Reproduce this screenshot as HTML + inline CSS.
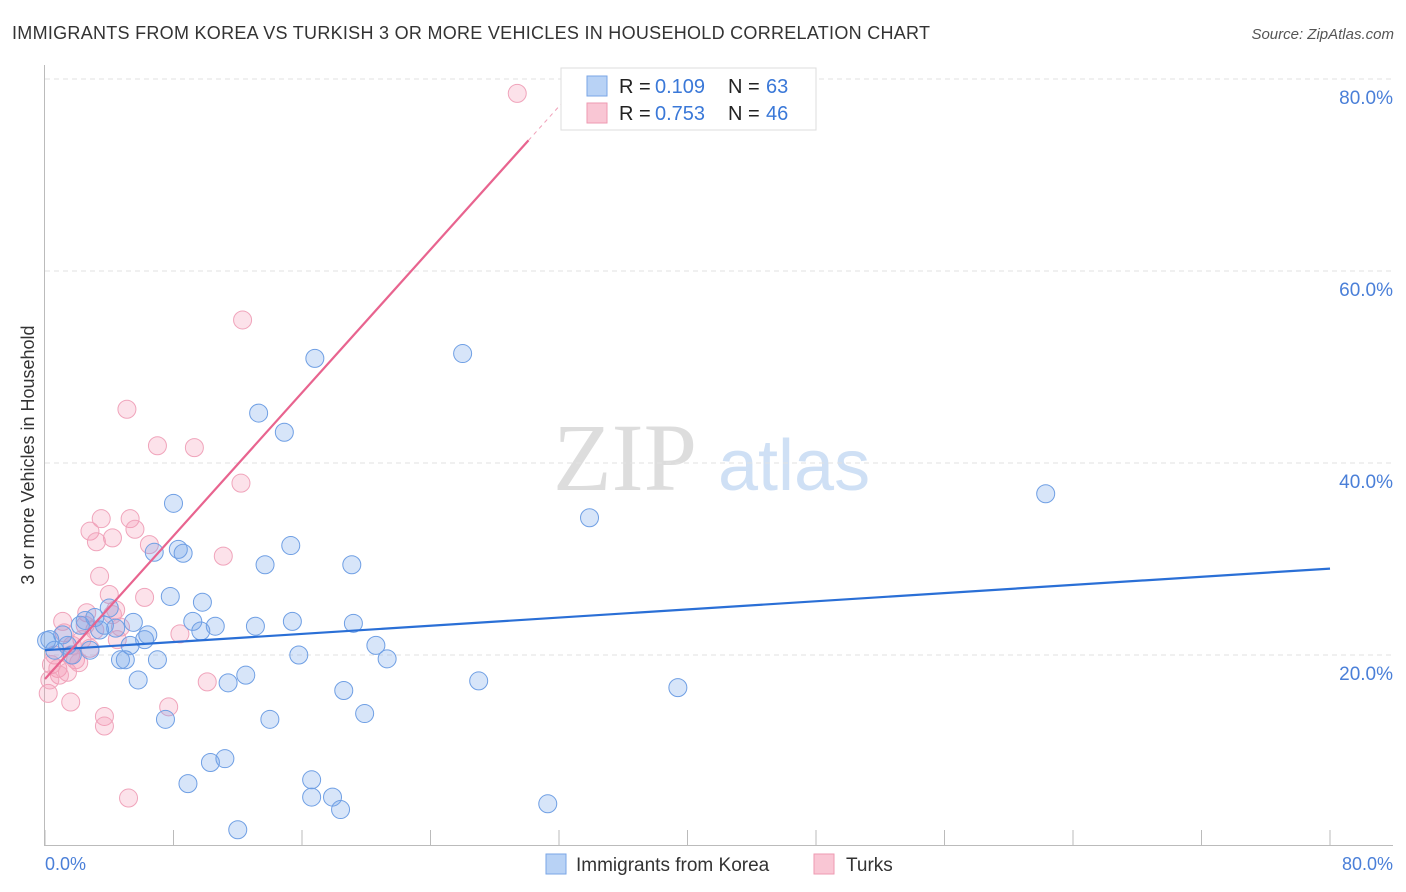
<!DOCTYPE html>
<html><head><meta charset="utf-8"><style>
body{margin:0;background:#fff;font-family:"Liberation Sans",sans-serif}
#c{position:relative;width:1406px;height:892px;overflow:hidden}
</style></head><body>
<div id="c">
<svg id="s" width="1406" height="892" xmlns="http://www.w3.org/2000/svg">
<text x="12" y="39" font-size="18" textLength="918" fill="#333">IMMIGRANTS FROM KOREA VS TURKISH 3 OR MORE VEHICLES IN HOUSEHOLD CORRELATION CHART</text>
<text x="1394" y="39" font-size="15" font-style="italic" fill="#555" text-anchor="end">Source: ZipAtlas.com</text>
<g><text x="553" y="490" font-family="Liberation Serif,serif" font-size="96" fill="#ddd">ZIP</text><text x="718" y="490" font-size="72" fill="#cfe0f5">atlas</text></g>
<g id="grid"></g><g id="axes"></g><g id="pts"></g><g id="trend"></g>
<text x="34" y="455" font-size="18" fill="#333" transform="rotate(-90 34 455)" text-anchor="middle">3 or more Vehicles in Household</text>
<text x="45" y="870" font-size="18" fill="#4a7fd8">0.0%</text>
<text x="1393" y="870" font-size="18" fill="#4a7fd8" text-anchor="end">80.0%</text>
<g>
<rect x="561" y="68" width="255" height="62" fill="#fff" stroke="#ddd"/>
<rect x="587" y="76" width="20" height="20" fill="#b8d2f5" stroke="#7aa6e6"/>
<rect x="587" y="103" width="20" height="20" fill="#f9c6d4" stroke="#ee9ab2"/>
<text x="619" y="93" font-size="20" fill="#222">R =</text><text x="655" y="93" font-size="20" fill="#3a78d8">0.109</text>
<text x="728" y="93" font-size="20" fill="#222">N =</text><text x="766" y="93" font-size="20" fill="#3a78d8">63</text>
<text x="619" y="120" font-size="20" fill="#222">R =</text><text x="655" y="120" font-size="20" fill="#3a78d8">0.753</text>
<text x="728" y="120" font-size="20" fill="#222">N =</text><text x="766" y="120" font-size="20" fill="#3a78d8">46</text>
</g>
<g>
<rect x="546" y="854" width="20" height="20" fill="#b8d2f5" stroke="#7aa6e6"/>
<text x="576" y="871" font-size="19" fill="#333">Immigrants from Korea</text>
<rect x="814" y="854" width="20" height="20" fill="#f9c6d4" stroke="#ee9ab2"/>
<text x="846" y="871" font-size="19" fill="#333">Turks</text>
</g>
</svg></div>
<script>
const yTicks=[20,40,60,80];
const yTickLabels=["20.0%","40.0%","60.0%","80.0%"];
const blueX=[0.3,1.1,1.4,1.7,2.2,2.8,3.1,3.4,4.0,4.4,4.7,5.0,5.3,5.5,6.2,6.4,7.0,5.8,6.8,7.5,7.8,8.0,8.3,8.6,8.9,9.2,9.7,9.8,10.3,10.6,11.2,11.4,12.0,12.5,13.1,13.3,13.7,14.0,14.9,15.3,15.4,15.8,16.6,16.6,16.8,17.9,18.4,18.6,19.1,19.2,19.9,20.6,21.3,26.0,27.0,31.3,33.9,39.4,62.3,0.6,2.5,3.7,0.1];
const blueY=[21.6,22.1,21.0,20.0,23.1,20.5,23.9,22.6,24.9,22.8,19.5,19.5,21.0,23.4,21.6,22.1,19.5,17.4,30.7,13.3,26.1,35.8,31.0,30.6,6.6,23.5,22.5,25.5,8.8,23.0,9.2,17.1,1.8,17.9,23.0,45.2,29.4,13.3,43.2,31.4,23.5,20.0,7.0,5.2,50.9,5.2,3.9,16.3,29.4,23.3,13.9,21.0,19.6,51.4,17.3,4.5,34.3,16.6,36.8,20.5,23.6,23.1,21.5];
const pinkX=[29.4,12.3,5.1,7.0,9.3,12.2,3.5,5.3,2.8,5.6,3.2,4.2,6.5,11.1,3.4,4.0,6.2,4.4,2.6,1.1,8.4,1.2,2.3,4.5,0.6,1.6,1.9,2.8,0.4,0.8,1.4,2.1,0.2,1.6,3.7,3.7,7.7,10.1,5.2,0.9,3.1,4.2,2.5,0.3,4.7,1.7];
const pinkY=[78.5,54.9,45.6,41.8,41.6,37.9,34.2,34.2,32.9,33.1,31.8,32.2,31.5,30.3,28.2,26.3,26.0,24.7,24.4,23.5,22.2,22.3,21.6,21.6,20.0,20.0,19.5,20.7,19.0,18.6,18.2,19.2,16.0,15.1,13.6,12.6,14.6,17.2,5.1,17.9,22.6,24.2,23.1,17.4,22.9,21.0];
const blueTrend=[20.5,29.0];
const pinkTrend=[17.5,1.864];
const NS="http://www.w3.org/2000/svg";
const X=v=>45+v*1285/80, Y=v=>847-v*9.6;
function mk(t,a,p){const e=document.createElementNS(NS,t);for(const k in a)e.setAttribute(k,a[k]);p.appendChild(e);return e;}
const g=document.getElementById('grid');
yTicks.forEach((t,i)=>{
 const l=mk('line',{x1:45,x2:1393,y1:Y(t),y2:Y(t),stroke:'#e2e2e2','stroke-dasharray':'5,4'},g);
 
 
 const tx=mk('text',{x:1393,y:Y(t)+25,'font-size':19,fill:'#4a7fd8','text-anchor':'end'},g);
 tx.textContent=yTickLabels[i];
 
 
});
const ax=document.getElementById('axes');
const ya=mk('line',{x1:44.5,x2:44.5,y1:65,y2:846,stroke:'#bbb'},ax);


const xa=mk('line',{x1:45,x2:1393,y1:845.5,y2:845.5,stroke:'#bbb'},ax);


for(let i=0;i<=10;i++){const t=mk('line',{x1:X(i*8),x2:X(i*8),y1:830,y2:846,stroke:'#bbb'},ax);
 
 }
const P=document.getElementById('pts');
function dots(xs,ys,fill,stroke,name){xs.forEach((x,i)=>{const c=mk('circle',{cx:X(x),cy:Y(ys[i]),r:9,fill:fill,stroke:stroke,'stroke-width':1},P);
 
 });}
dots(pinkX,pinkY,'rgba(243,150,178,0.28)','#f0a4bb','turks-point');
dots(blueX,blueY,'rgba(110,160,232,0.28)','#6f9fe4','korea-point');
const T=document.getElementById('trend');
const bl=mk('line',{x1:X(0),y1:Y(blueTrend[0]),x2:X(80),y2:Y(blueTrend[1]),stroke:'#2a6fd6','stroke-width':2.2},T);


const pe=30.1;
const pl=mk('line',{x1:X(0),y1:Y(pinkTrend[0]),x2:X(pe),y2:Y(pinkTrend[0]+pinkTrend[1]*pe),stroke:'#e8648f','stroke-width':2.2},T);


const pd=mk('line',{x1:X(pe),y1:Y(pinkTrend[0]+pinkTrend[1]*pe),x2:X(33.5),y2:Y(pinkTrend[0]+pinkTrend[1]*33.5),stroke:'#f0a0b8','stroke-width':1,'stroke-dasharray':'4,4'},T);


</script>
</body></html>
